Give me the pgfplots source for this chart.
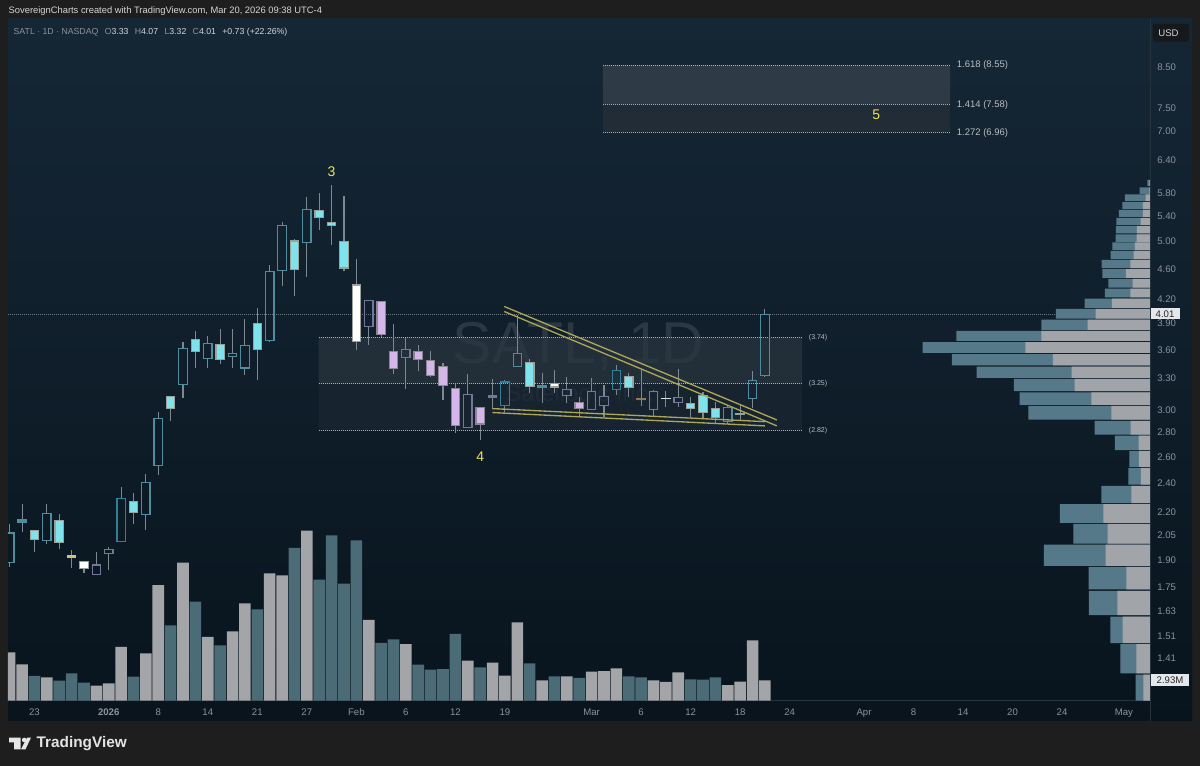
\documentclass[border=0pt]{standalone}
\usepackage{pgfplots}
\pgfplotsset{compat=1.18}
\usepackage{fontspec}
\setmainfont{Liberation Sans}
\definecolor{frame}{HTML}{1E1E1E}
\definecolor{panetop}{HTML}{152635}
\definecolor{panemid}{HTML}{0F1E2A}
\definecolor{panebot}{HTML}{08141D}
\definecolor{ticktxt}{HTML}{8C939A}
\definecolor{divid}{HTML}{26323C}
\definecolor{dots}{HTML}{A9AEB2}
\definecolor{cwick}{HTML}{7D8990}
\definecolor{chol}{HTML}{4F8C9D}
\definecolor{chold}{HTML}{2F7F98}
\definecolor{clil}{HTML}{75779A}
\definecolor{ccy}{HTML}{7FE3EE}
\definecolor{cbd}{HTML}{9AA29A}
\definecolor{cpur}{HTML}{D5B6EA}
\definecolor{cpurb}{HTML}{8D8590}
\definecolor{volg}{HTML}{A3A5A8}
\definecolor{volt}{HTML}{4B6B76}
\definecolor{vpt}{HTML}{56798A}
\definecolor{vpg}{HTML}{A1A4A8}
\definecolor{fibA}{HTML}{2E3A45}
\definecolor{fibB}{HTML}{212C37}
\definecolor{fibC}{HTML}{29343E}
\definecolor{fibD}{HTML}{1B2732}
\definecolor{wm}{HTML}{2B3843}
\definecolor{olive}{HTML}{ABA65A}
\definecolor{yel}{HTML}{EDE35A}
\definecolor{HTMLolive}{HTML}{C9C58A}
\definecolor{HTMLbrown}{HTML}{8A7A5A}
\definecolor{HTMLlight}{HTML}{D9DEE2}
\definecolor{HTMLstrip}{HTML}{0A141C}
\definecolor{HTMLhead}{HTML}{D4D6D8}
\definecolor{HTMLlab}{HTML}{B9BDC1}
\definecolor{HTMLtag}{HTML}{E4E7EC}
\definecolor{HTMLusd}{HTML}{15191C}
\definecolor{lastp}{HTML}{6E767C}

\pgfplotsset{
 kH/.style={draw=chol,fill=none},
 kD/.style={draw=chold,fill=none},
 kL/.style={draw=clil,fill=none},
 kC/.style={draw=cbd,fill=ccy},
 kW/.style={draw=cbd,fill=white},
 kP/.style={draw=cpurb,fill=cpur},
 kT/.style={draw=chol,fill=chol},
 kO/.style={draw=HTMLolive,fill=HTMLolive},
 kB/.style={draw=HTMLbrown,fill=HTMLbrown},
 kX/.style={draw=HTMLlight,fill=HTMLlight},
}
\tikzset{fibdot/.style={dots,line width=0.18pt,dash pattern=on 0.3pt off 0.3pt}}

% \candle{index}{low}{body bottom}{body top}{high}{kind}
\newcommand\candle[6]{%
 \pgfmathsetmacro\xl{#1-0.34}\pgfmathsetmacro\xr{#1+0.34}%
 \addplot[cwick,line width=0.33pt] coordinates {(#1,#2)(#1,#3)};
 \addplot[cwick,line width=0.33pt] coordinates {(#1,#4)(#1,#5)};
 \addplot[k#6,line width=0.36pt] coordinates {(\xl,#3)(\xr,#3)(\xr,#4)(\xl,#4)(\xl,#3)(\xr,#3)};
}
% \prof{price low}{price high}{total width}{grey width}
\newcommand\prof[4]{%
 \addplot[draw=none,fill=vpt] coordinates {(0,#1)(#3,#1)(#3,#2)(0,#2)(0,#1)};
 \addplot[draw=none,fill=vpg] coordinates {(0,#1)(#4,#1)(#4,#2)(0,#2)(0,#1)};
}
\pgfplotstableread{
x v
0 6.94
1 5.21
3 3.35
7 2.15
8 2.48
9 7.71
11 6.79
12 16.61
14 19.82
16 9.15
18 9.95
19 13.97
21 18.28
22 17.99
24 24.41
29 11.59
32 8.14
37 5.74
39 5.46
40 3.59
41 11.24
43 2.92
45 3.49
47 4.16
48 4.26
49 4.64
52 2.92
53 2.69
54 4.06
58 2.25
59 2.73
60 8.66
61 2.93
}\volgrey
\pgfplotstableread{
x v
2 3.55
4 2.87
5 3.92
6 2.58
10 3.45
13 10.81
15 14.22
17 7.94
20 13.11
23 21.93
25 17.38
26 23.74
27 16.80
28 23.02
30 8.29
31 8.80
33 5.17
34 4.45
35 4.55
36 9.58
38 4.78
42 5.36
44 3.49
46 3.26
50 3.49
51 3.35
55 3.06
56 3.02
57 3.35
}\volteal

\begin{document}
\begin{tikzpicture}[x=0.3pt,y=0.3pt]
\useasboundingbox (0,0) rectangle (1200,766);
\fill[frame] (0,0) rectangle (1200,766);
\shade[top color=panetop,bottom color=panebot,middle color=panemid] (8,45) rectangle (1192,747);
\fill[HTMLstrip] (8,45) rectangle (1150,65.3);
\draw[divid,line width=0.24pt] (1150,45) -- (1150,747);
\draw[divid,line width=0.18pt] (8,65.3) -- (1150,65.3);

\node[anchor=west,inner sep=0,text=HTMLhead,font=\fontsize{2.81}{3.3}\selectfont] at (8,755) {SovereignCharts created with TradingView.com, Mar 20, 2026 09:38 UTC-4};

% watermark
\node[anchor=base,text=wm,font=\fontsize{17.7}{21}\selectfont,inner sep=0] at (578.5,402) {SATL, 1D};
\node[anchor=base,text=wm,font=\fontsize{7.2}{8.4}\selectfont,inner sep=0] at (580,364) {Satellogic Inc.};

% volume pane
\begin{axis}[at={(2.4pt,19.59pt)},anchor=south west,scale only axis,width=342.6pt,height=60pt,
 xmin=-0.137,xmax=92.1,ymin=0,ymax=28.72,hide axis,bar width=3.48pt,ybar,clip=true]
\addplot[ybar,bar shift=0pt,draw=none,fill=volg] table[x=x,y=v] {\volgrey};
\addplot[ybar,bar shift=0pt,draw=none,fill=volt] table[x=x,y=v] {\volteal};
\end{axis}

% price pane
\begin{axis}[at={(2.4pt,19.59pt)},anchor=south west,scale only axis,width=342.6pt,height=204.51pt,
 xmin=-0.137,xmax=92.1,ymode=log,ymin=1.241,ymax=9.828,
 axis line style={draw=none},
 major tick length=0pt,minor tick num=0,
 ytick={1.41,1.51,1.63,1.75,1.90,2.05,2.20,2.40,2.60,2.80,3.00,3.30,3.60,3.90,4.20,4.60,5.00,5.40,5.80,6.40,7.00,7.50,8.50},
 yticklabels={1.41,1.51,1.63,1.75,1.90,2.05,2.20,2.40,2.60,2.80,3.00,3.30,3.60,3.90,4.20,4.60,5.00,5.40,5.80,6.40,7.00,7.50,8.50},
 yticklabel pos=right,
 yticklabel style={anchor=west,inner sep=0,xshift=2pt,text=ticktxt,font=\fontsize{2.88}{3.3}\selectfont},
 xtick={2,8,12,16,20,24,28,32,36,40,47,51,55,59,63,69,73,77,81,85,90},
 xticklabels={23,\textbf{2026},8,14,21,27,Feb,6,12,19,Mar,6,12,18,24,Apr,8,14,20,24,May},
 xticklabel style={anchor=base,inner sep=0,yshift=-4.3pt,text=ticktxt,font=\fontsize{2.88}{3.3}\selectfont},
 clip=true]
% Fibonacci bands
\addplot[draw=none,fill=fibA] coordinates {(47.92,7.58)(75.95,7.58)(75.95,8.55)(47.92,8.55)(47.92,7.58)};
\addplot[draw=none,fill=fibB] coordinates {(47.92,6.96)(75.95,6.96)(75.95,7.58)(47.92,7.58)(47.92,6.96)};
\addplot[draw=none,fill=fibC,fill opacity=0.75] coordinates {(24.96,3.25)(64,3.25)(64,3.74)(24.96,3.74)(24.96,3.25)};
\addplot[draw=none,fill=fibD,fill opacity=0.75] coordinates {(24.96,2.82)(64,2.82)(64,3.25)(24.96,3.25)(24.96,2.82)};
\addplot[fibdot] coordinates {(47.92,8.55)(75.95,8.55)};
\addplot[fibdot] coordinates {(47.92,7.58)(75.95,7.58)};
\addplot[fibdot] coordinates {(47.92,6.96)(75.95,6.96)};
\addplot[fibdot] coordinates {(24.96,3.74)(64,3.74)};
\addplot[fibdot] coordinates {(24.96,3.25)(64,3.25)};
\addplot[fibdot] coordinates {(24.96,2.82)(64,2.82)};
% last price line
\addplot[lastp,line width=0.15pt,dash pattern=on 0.3pt off 0.3pt] coordinates {(-0.137,4.01)(92.1,4.01)};

\candle{0}{1.863}{1.886}{2.065}{2.122}{H}
\candle{1}{2.072}{2.131}{2.148}{2.255}{T}
\candle{2}{1.951}{2.026}{2.082}{2.082}{C}
\candle{3}{1.998}{2.016}{2.192}{2.255}{H}
\candle{4}{1.965}{2.008}{2.144}{2.186}{C}
\candle{5}{1.857}{1.915}{1.926}{1.961}{O}
\candle{6}{1.831}{1.855}{1.893}{1.893}{W}
\candle{7}{1.822}{1.822}{1.873}{1.949}{L}
\candle{8}{1.844}{1.942}{1.965}{1.979}{L}
\candle{9}{2.014}{2.014}{2.295}{2.377}{D}
\candle{10}{2.122}{2.196}{2.274}{2.330}{C}
\candle{11}{2.084}{2.186}{2.406}{2.468}{H}
\candle{12}{2.465}{2.536}{2.925}{2.985}{H}
\candle{13}{2.904}{3.016}{3.124}{3.124}{C}
\candle{14}{3.108}{3.237}{3.619}{3.685}{H}
\candle{15}{3.412}{3.582}{3.711}{3.817}{C}
\candle{16}{3.412}{3.510}{3.667}{3.760}{H}
\candle{17}{3.450}{3.500}{3.663}{3.833}{C}
\candle{18}{3.412}{3.524}{3.564}{3.833}{H}
\candle{19}{3.340}{3.406}{3.644}{3.952}{H}
\candle{20}{3.286}{3.600}{3.904}{4.086}{C}
\candle{21}{3.689}{3.703}{4.567}{4.651}{H}
\candle{22}{4.372}{4.580}{5.257}{5.299}{H}
\candle{23}{4.233}{4.590}{5.008}{5.038}{C}
\candle{24}{4.489}{4.987}{5.507}{5.723}{H}
\candle{25}{5.182}{5.380}{5.491}{5.804}{C}
\candle{26}{4.942}{5.251}{5.305}{5.942}{C}
\candle{27}{4.567}{4.614}{5.002}{5.746}{C}
\candle{28}{3.600}{3.692}{4.382}{4.741}{W}
\candle{29}{3.652}{3.864}{4.181}{4.194}{L}
\candle{30}{3.745}{3.768}{4.169}{4.169}{P}
\candle{31}{3.347}{3.398}{3.582}{3.892}{P}
\candle{32}{3.195}{3.517}{3.608}{3.730}{L}
\candle{33}{3.375}{3.500}{3.582}{3.652}{P}
\candle{34}{3.314}{3.327}{3.482}{3.592}{P}
\candle{35}{3.092}{3.227}{3.419}{3.464}{P}
\candle{36}{2.795}{2.858}{3.201}{3.247}{P}
\candle{37}{2.847}{2.847}{3.143}{3.347}{L}
\candle{38}{2.739}{2.875}{3.025}{3.025}{P}
\candle{39}{3.006}{3.117}{3.130}{3.296}{L}
\candle{40}{2.985}{3.043}{3.266}{3.286}{D}
\candle{41}{3.422}{3.422}{3.564}{4.004}{H}
\candle{42}{3.156}{3.220}{3.464}{3.500}{C}
\candle{43}{3.060}{3.214}{3.234}{3.354}{T}
\candle{44}{3.156}{3.217}{3.250}{3.388}{W}
\candle{45}{3.060}{3.133}{3.195}{3.314}{L}
\candle{46}{2.940}{3.012}{3.067}{3.117}{P}
\candle{47}{3.006}{3.006}{3.175}{3.303}{L}
\candle{48}{2.934}{3.037}{3.124}{3.234}{L}
\candle{49}{3.140}{3.188}{3.385}{3.443}{D}
\candle{50}{3.117}{3.208}{3.320}{3.360}{C}
\candle{51}{3.037}{3.098}{3.104}{3.388}{B}
\candle{52}{2.946}{3.006}{3.172}{3.188}{H}
\candle{53}{3.025}{3.104}{3.108}{3.182}{X}
\candle{54}{3.030}{3.071}{3.113}{3.398}{L}
\candle{55}{2.940}{3.012}{3.060}{3.124}{C}
\candle{56}{2.925}{2.979}{3.136}{3.172}{C}
\candle{57}{2.887}{2.931}{3.012}{3.076}{C}
\candle{58}{2.875}{2.895}{3.025}{3.040}{H}
\candle{59}{2.910}{2.958}{2.964}{3.046}{C}
\candle{60}{3.016}{3.104}{3.283}{3.378}{H}
\candle{61}{3.32}{3.33}{4.01}{4.07}{H}

% wedge
\addplot[olive,line width=0.4pt] coordinates {(39.95,4.106)(61.96,2.910)};
\addplot[olive,line width=0.4pt] coordinates {(39.95,4.044)(61.96,2.858)};
\addplot[olive,line width=0.4pt] coordinates {(38.98,3.012)(61,2.895)};
\addplot[olive,line width=0.4pt] coordinates {(38.98,2.976)(61,2.858)};

\node[text=yel,font=\fontsize{4.2}{4.8}\selectfont] at (axis cs:26,6.178) {3};
\node[text=yel,font=\fontsize{4.2}{4.8}\selectfont] at (axis cs:38,2.601) {4};
\node[text=yel,font=\fontsize{4.2}{4.8}\selectfont] at (axis cs:70,7.344) {5};
\node[anchor=west,inner sep=0,text=HTMLlab,font=\fontsize{2.85}{3.3}\selectfont] at (axis cs:76.45,8.55) {1.618 (8.55)};
\node[anchor=west,inner sep=0,text=HTMLlab,font=\fontsize{2.85}{3.3}\selectfont] at (axis cs:76.45,7.58) {1.414 (7.58)};
\node[anchor=west,inner sep=0,text=HTMLlab,font=\fontsize{2.85}{3.3}\selectfont] at (axis cs:76.45,6.96) {1.272 (6.96)};
\node[anchor=west,inner sep=0,text=HTMLlab,font=\fontsize{2.1}{2.7}\selectfont] at (axis cs:64.5,3.74) {(3.74)};
\node[anchor=west,inner sep=0,text=HTMLlab,font=\fontsize{2.1}{2.7}\selectfont] at (axis cs:64.5,3.25) {(3.25)};
\node[anchor=west,inner sep=0,text=HTMLlab,font=\fontsize{2.1}{2.7}\selectfont] at (axis cs:64.5,2.82) {(2.82)};
\end{axis}

% volume profile
\begin{axis}[at={(240pt,19.59pt)},anchor=south west,scale only axis,width=105pt,height=204.51pt,
 xmin=0,xmax=350,x dir=reverse,ymode=log,ymin=1.241,ymax=9.828,axis line style={draw=none},
 major tick length=0pt,xtick=\empty,ytick=\empty,minor tick num=0]
\prof{5.924}{6.032}{2.7}{0.7}
\prof{5.781}{5.893}{10.3}{0.7}
\prof{5.654}{5.769}{25}{4.3}
\prof{5.519}{5.637}{27.7}{7}
\prof{5.392}{5.507}{31}{7}
\prof{5.262}{5.375}{33.7}{9.3}
\prof{5.125}{5.246}{34}{13}
\prof{4.997}{5.110}{34.3}{13.3}
\prof{4.873}{4.987}{37.7}{15}
\prof{4.741}{4.862}{39.3}{16.3}
\prof{4.614}{4.731}{48.3}{19.7}
\prof{4.480}{4.600}{47.7}{24}
\prof{4.350}{4.466}{41.7}{17.3}
\prof{4.220}{4.336}{45}{19.7}
\prof{4.090}{4.207}{65.3}{38}
\prof{3.959}{4.078}{94}{54.3}
\prof{3.825}{3.947}{108.7}{62.3}
\prof{3.700}{3.814}{193.7}{108.7}
\prof{3.568}{3.685}{227.3}{124.7}
\prof{3.433}{3.554}{198}{97}
\prof{3.306}{3.422}{173.3}{78.3}
\prof{3.175}{3.296}{136}{75.3}
\prof{3.046}{3.165}{130.3}{58.7}
\prof{2.913}{3.037}{121.7}{38.7}
\prof{2.784}{2.901}{55.3}{19.3}
\prof{2.655}{2.775}{35}{11.3}
\prof{2.523}{2.647}{20.7}{11}
\prof{2.392}{2.515}{21.7}{9}
\prof{2.260}{2.382}{48.7}{18.7}
\prof{2.129}{2.253}{90}{46.7}
\prof{1.999}{2.122}{76.7}{42.3}
\prof{1.869}{1.993}{106}{44.3}
\prof{1.740}{1.863}{61.3}{23.7}
\prof{1.609}{1.732}{61}{32.7}
\prof{1.478}{1.602}{39.7}{27.3}
\prof{1.348}{1.473}{29.7}{13.7}
\prof{1.241}{1.343}{14.3}{6.7}
\end{axis}

% legend line
\node[anchor=west,inner sep=0,font=\fontsize{2.62}{3.3}\selectfont,text=ticktxt] at (13,734) {SATL · 1D · NASDAQ\hspace{1.9pt}O\textcolor{HTMLhead}{3.33}\hspace{1.9pt}H\textcolor{HTMLhead}{4.07}\hspace{1.9pt}L\textcolor{HTMLhead}{3.32}\hspace{1.9pt}C\textcolor{HTMLhead}{4.01}\hspace{1.9pt}\textcolor{HTMLhead}{+0.73 (+22.26\%)}};

% price tags and USD
\fill[HTMLtag] (1151,447) rectangle (1179.5,457.5);
\node[text=black!85,inner sep=0,font=\fontsize{2.88}{3.3}\selectfont] at (1165,452.2) {4.01};
\fill[HTMLtag] (1151,80) rectangle (1188.5,91.5);
\node[text=black!85,inner sep=0,font=\fontsize{2.88}{3.3}\selectfont] at (1170,85.7) {2.93M};
\fill[HTMLusd,rounded corners=0.6pt] (1152.7,724.3) rectangle (1189,742);
\node[text=HTMLhead,inner sep=0,font=\fontsize{2.88}{3.3}\selectfont] at (1168.5,733) {USD};

% footer logo
\fill[white!90!black] (9,28.3) -- (20.7,28.3) -- (20.7,16.7) -- (14,16.7) -- (14,23.7) -- (9,23.7) -- cycle;
\fill[white!90!black] (24.2,26) circle (2.3);
\fill[white!90!black] (27,28.3) -- (31,28.3) -- (25.5,16.7) -- (21,16.7) -- cycle;
\node[anchor=west,inner sep=0,text=white!90!black,font=\fontsize{4.6}{5.4}\selectfont\bfseries] at (36,22.5) {TradingView};
\end{tikzpicture}
\end{document}
